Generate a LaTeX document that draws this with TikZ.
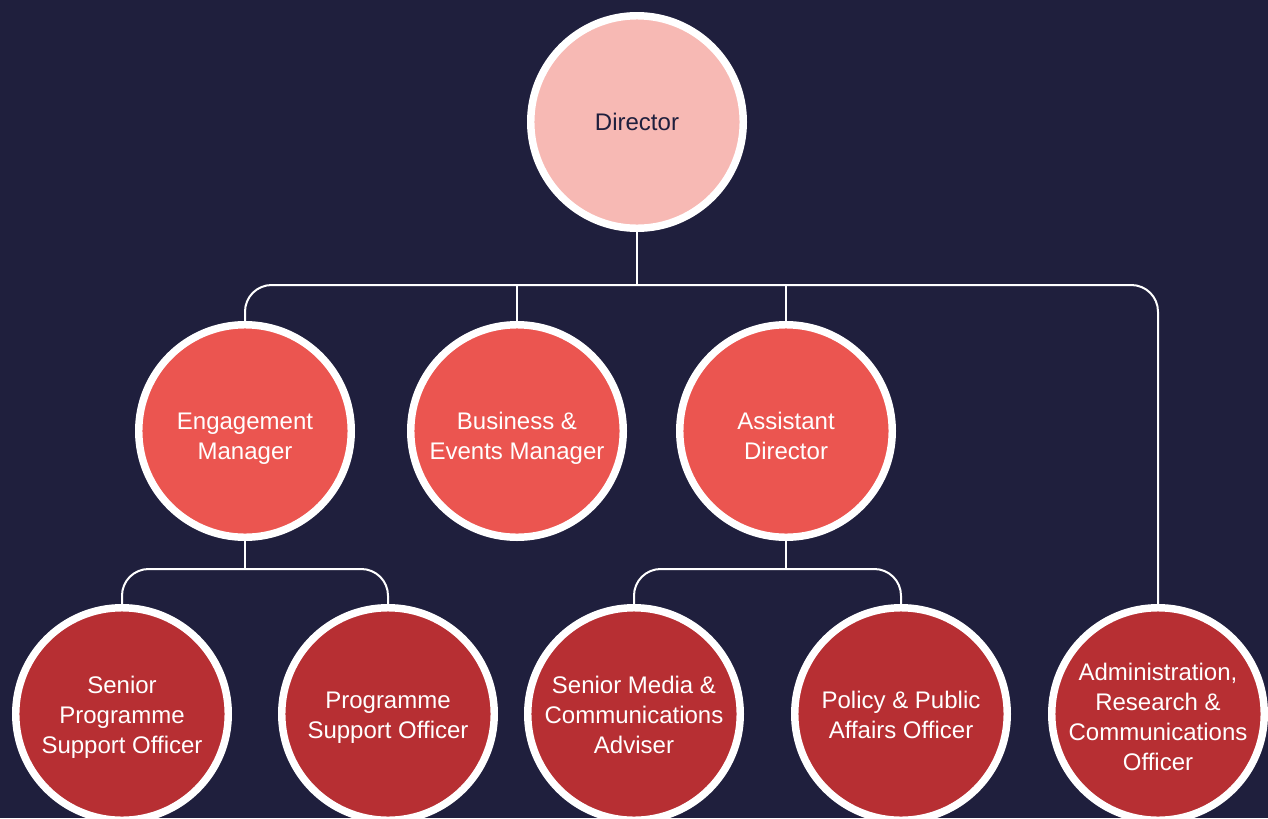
\documentclass[tikz,border=0pt]{standalone}
\usepackage{fontspec}
\setmainfont{Liberation Sans}
\definecolor{bgnavy}{HTML}{1F1F3D}
\definecolor{dirpink}{HTML}{F7B9B4}
\definecolor{midred}{HTML}{EB5550}
\definecolor{lowred}{HTML}{B72F33}
\tikzset{every picture/.style={line width=0.75pt}}
\begin{document}
\begin{tikzpicture}[x=0.75pt,y=0.75pt,yscale=-1,xscale=1,
  role/.style={circle, draw=white, line width=5.6pt, minimum size=159.4pt, inner sep=-6pt, align=center, text=white, font=\fontsize{18}{22.5}\selectfont},
  toprole/.style={role, fill=dirpink, text=bgnavy},
  midrole/.style={role, fill=midred, text height=42pt, text depth=0pt},
  lowrole/.style={role, fill=lowred, text height=36.5pt, text depth=0pt},
  link/.style={draw=white, line width=1.5pt, rounded corners=20pt}]
%set diagram area 1268 x 818
\path[use as bounding box, clip] (0,0) rectangle (1268,818);
\fill[bgnavy] (0,0) rectangle (1268,818);

%Bus points
\coordinate (topbus) at (637,285);
\coordinate (engbus) at (245,569);
\coordinate (asdbus) at (786,569);

% Top level
\node[toprole] (dir) at (637,122) {Director};

% Second level
\node[midrole] (eng) at (245,431) {Engagement\\Manager};
\node[midrole] (bem) at (517,431) {Business \&\\Events Manager};
\node[midrole] (asd) at (786,431) {Assistant\\Director};

% Third level (text height grows with the number of lines)
\node[lowrole, text height=58.5pt] (spso) at (122,714) {Senior\\Programme\\Support Officer};
\node[lowrole] (pso) at (388,714) {Programme\\Support Officer};
\node[lowrole, text height=58.5pt] (smca) at (634,714) {Senior Media \&\\Communications\\Adviser};
\node[lowrole] (ppao) at (901,714) {Policy \& Public\\Affairs Officer};
\node[lowrole, text height=84.5pt] (arco) at (1158,714) {Administration,\\Research \&\\Communications\\Officer};

%Connectors from Director
\draw[link] (dir.south) -- (topbus);
\draw[link] (eng.north) |- (topbus) -| (arco.north);
\draw[link] (bem.north) -- (bem.north |- topbus);
\draw[link] (asd.north) -- (asd.north |- topbus);

%Connectors from Engagement Manager
\draw[link] (eng.south) -- (engbus);
\draw[link] (spso.north) |- (engbus) -| (pso.north);

%Connectors from Assistant Director
\draw[link] (asd.south) -- (asdbus);
\draw[link] (smca.north) |- (asdbus) -| (ppao.north);

\end{tikzpicture}
\end{document}
